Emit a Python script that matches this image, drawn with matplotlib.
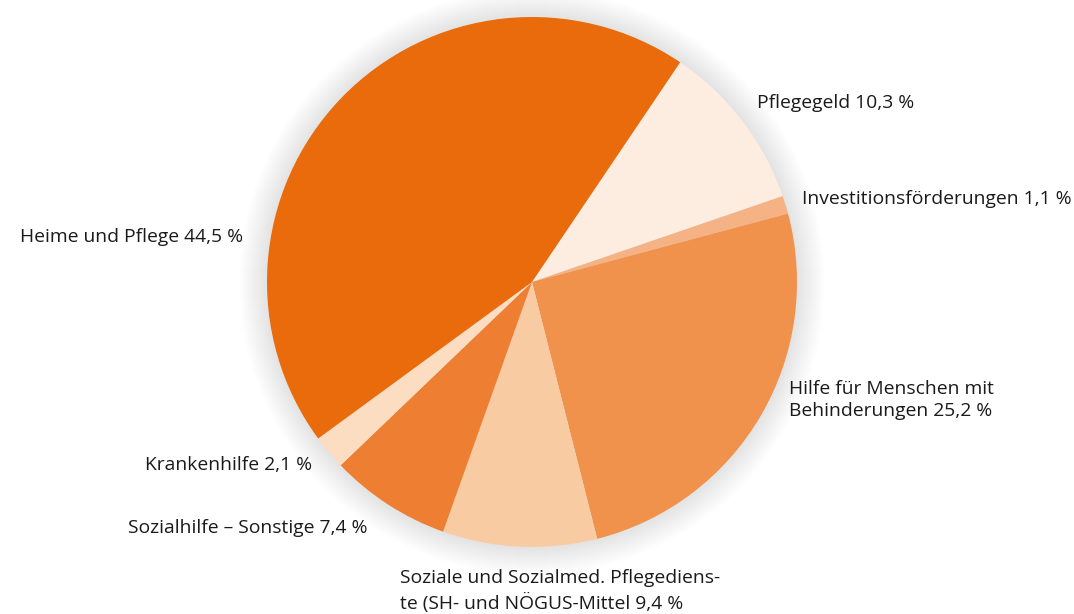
import matplotlib.pyplot as plt
from matplotlib.patches import Circle

labels = [
    "Pflegegeld 10,3 %",
    "Investitionsförderungen 1,1 %",
    "Hilfe für Menschen mit\nBehinderungen 25,2 %",
    "Soziale und Sozialmed. Pflegediens-\nte (SH- und NÖGUS-Mittel 9,4 %",
    "Sozialhilfe – Sonstige 7,4 %",
    "Krankenhilfe 2,1 %",
    "Heime und Pflege 44,5 %",
]
shares = [10.3, 1.1, 25.2, 9.4, 7.4, 2.1, 44.5]
colors = ["#FDEDE1", "#F5B385", "#F0924B", "#F9CBA3", "#EE7F32", "#FCDDC2", "#E96B0C"]

# label anchor (left x, vertical centre) in pixels from the top-left corner
label_pos = [(757, 103), (802, 199), (789, 400), (400, 591), (128, 528), (145, 465), (20, 237)]

W, H = 1074, 614
cx, cy, r = 532, H - 282, 265

fig = plt.figure(figsize=(W / 100, H / 100), dpi=100)
ax = fig.add_axes([0, 0, 1, 1])

# soft grey glow around the pie
for i in range(28):
    ax.add_patch(Circle((cx, cy), r + 28 - i, color="black", alpha=0.0055, lw=0, zorder=0))

ax.pie(shares, colors=colors, startangle=56, counterclock=False,
       center=(cx, cy), radius=r, frame=True,
       wedgeprops=dict(linewidth=0))
ax.set_xlim(0, W)
ax.set_ylim(0, H)
ax.set_aspect("equal")
ax.axis("off")

for text, (x, y) in zip(labels, label_pos):
    ax.text(x, H - y, text, ha="left", va="center", fontsize=13.9,
            family="Open Sans", color="#1a1a1a", linespacing=1.33)

fig.savefig("out.png", dpi=100)
